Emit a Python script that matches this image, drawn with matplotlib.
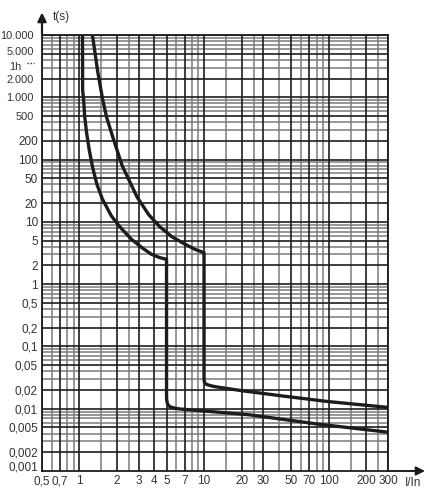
import matplotlib
matplotlib.use("Agg")
import matplotlib.pyplot as plt
import matplotlib.transforms as mtransforms

plt.rcParams['font.family'] = ['Liberation Sans', 'DejaVu Sans']

# ---- data ----
x_ticks = [0.5, 0.7, 1, 2, 3, 4, 5, 7, 10, 20, 30, 50, 70, 100, 200, 300]
x_labels = ['0,5', '0,7', '1', '2', '3', '4', '5', '7', '10', '20', '30', '50', '70', '100', '200', '300']
y_ticks = [10000, 5000, 3600, 2000, 1000, 500, 200, 100, 50, 20, 10, 5, 2, 1,
           0.5, 0.2, 0.1, 0.05, 0.02, 0.01, 0.005, 0.002, 0.001]
y_labels = ['10.000', '5.000', '1h', '2.000', '1.000', '500', '200', '100', '50', '20', '10', '5', '2', '1',
            '0,5', '0,2', '0,1', '0,05', '0,02', '0,01', '0,005', '0,002', '0,001']

# grid values
x_grid_dark = [0.5, 0.7, 1, 2, 3, 4, 5, 7, 10, 20, 30, 50, 70, 100, 200, 300]
x_grid_light = [0.6, 0.8, 0.9, 1.5, 2.5, 6, 8, 9, 15, 25, 40, 60, 80, 90, 150, 250]
y_grid_dark = [10000, 5000, 2000, 1000, 500, 200, 100, 50, 20, 10, 5, 2, 1, 0.5, 0.2, 0.1,
               0.05, 0.02, 0.01, 0.005, 0.002]
y_grid_light = [9000, 8000, 7000, 6000, 4000, 3000, 900, 800, 700, 600, 400, 300,
                90, 80, 70, 60, 40, 30, 9, 8, 7, 6, 4, 3, 0.9, 0.8, 0.7, 0.6, 0.4, 0.3,
                0.09, 0.08, 0.07, 0.06, 0.04, 0.03, 0.009, 0.008, 0.007, 0.006, 0.004, 0.003]

# tripping curves
curve1_x = [1.057, 1.06, 1.08, 1.10, 1.14, 1.20, 1.27, 1.38, 1.53, 1.8, 2.1, 2.6, 3.2, 3.8, 4.4, 5.0,
            5.0, 5.02, 5.1, 5.3, 5.8, 6.4, 10, 23, 80, 300]
curve1_t = [10000, 1300, 900, 500, 270, 140, 77, 40, 23, 12.5, 8.4, 5.3, 3.8, 3.0, 2.67, 2.5,
            0.016, 0.0135, 0.0118, 0.0108, 0.0102, 0.0099, 0.0092, 0.0080, 0.0057, 0.0042]
curve2_x = [1.27, 1.40, 1.53, 1.65, 1.85, 2.2, 2.9, 3.6, 4.4, 5.5, 7.0, 8.5, 10,
            10, 10.1, 10.5, 11.5, 12.6, 20, 45, 100, 300]
curve2_t = [10000, 2600, 950, 480, 230, 80, 25, 13, 8.4, 5.8, 4.4, 3.6, 3.2,
            0.029, 0.026, 0.0245, 0.0232, 0.0224, 0.0195, 0.0158, 0.013, 0.0105]

# ---- figure ----
W, H = 438, 500
fig = plt.figure(figsize=(W / 100, H / 100), dpi=100)
L, R, T, B = 42, 388, 35, 471
ax = fig.add_axes([L / W, 1 - B / H, (R - L) / W, (B - T) / H])
ax.set_xscale('log')
ax.set_yscale('log')
ax.set_xlim(0.5, 300)
ax.set_ylim(0.001, 10000)

dark = '#1c1c1c'
light = '#7a7a7a'
for v in x_grid_light:
    ax.axvline(v, color=light, lw=1.1, zorder=1)
for v in y_grid_light:
    ax.axhline(v, color=light, lw=1.1, zorder=1)
for v in x_grid_dark:
    ax.axvline(v, color=dark, lw=1.2, zorder=2)
for v in y_grid_dark:
    ax.axhline(v, color=dark, lw=1.2, zorder=2)

ax.plot(curve1_x, curve1_t, color=dark, lw=2.4, zorder=5, solid_joinstyle='round', solid_capstyle='butt')
ax.plot(curve2_x, curve2_t, color=dark, lw=2.4, zorder=5, solid_joinstyle='round', solid_capstyle='butt')

for s in ax.spines.values():
    s.set_color(dark)
    s.set_linewidth(1.3)

fs = 8.5
ax.minorticks_off()
ax.set_xticks(x_ticks)
ax.set_xticklabels(x_labels)
ax.set_yticks(y_ticks)
ax.set_yticklabels(y_labels)
ax.tick_params(axis='both', length=0, labelsize=fs, labelcolor='#333333')
ax.tick_params(axis='x', pad=3)
ax.tick_params(axis='y', pad=3)

# small offsets / sizes of some y labels, as in the original print
for lab, val in zip(ax.get_yticklabels(), y_ticks):
    dx, dy = 0, 0
    if val >= 500:
        dx = -4
        lab.set_fontsize(7.9)
    if val == 5000:
        dy = 3
    if val == 3600:
        dx, dy = -16, -3
    if val == 0.001:
        dy = 5
    if dx or dy:
        lab.set_transform(lab.get_transform() + mtransforms.ScaledTranslation(dx / 100, dy / 100, fig.dpi_scale_trans))

# dotted marker next to "1h"
ax.plot([-0.042, -0.022], [3600, 3600], transform=ax.get_yaxis_transform(), color='#333333',
        lw=1.0, ls=(0, (1, 1.2)), clip_on=False)

# axis arrows
ax.annotate('', xy=(0, 1.058), xytext=(0, 0.995), xycoords='axes fraction',
            arrowprops=dict(arrowstyle='-|>', color=dark, lw=1.6, mutation_scale=13), annotation_clip=False)
ax.annotate('', xy=(1.115, 0), xytext=(0.995, 0), xycoords='axes fraction',
            arrowprops=dict(arrowstyle='-|>', color=dark, lw=1.4, mutation_scale=13), annotation_clip=False)
ax.text(0.032, 1.041, 't(s)', transform=ax.transAxes, ha='left', va='center', fontsize=fs, color='#333333')
ax.text(1.049, -0.028, 'I/In', transform=ax.transAxes, ha='left', va='center', fontsize=fs, color='#333333')

fig.savefig('out.png', dpi=100)
